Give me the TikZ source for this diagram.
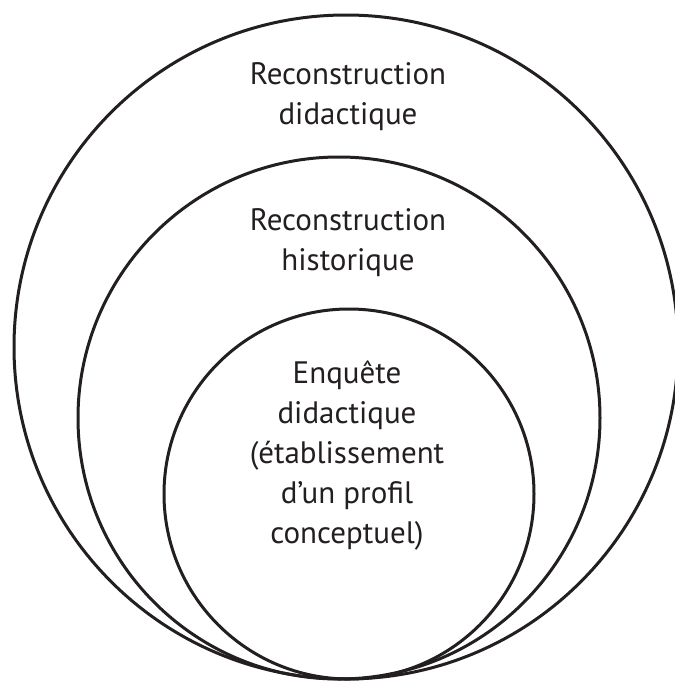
\documentclass[tikz,border=0pt]{standalone}
\usepackage{fontspec}
\setmainfont{PT Sans}
\definecolor{ink}{RGB}{35,31,32}
\tikzset{
  ring/.style={draw=ink, line width=1.5pt},
  label text/.style={align=center, text=ink, font=\fontsize{15.5}{20}\selectfont}
}
\begin{document}
\begin{tikzpicture}[x=0.5pt,y=-0.5pt]
\useasboundingbox (0,0) rectangle (675,681);
\foreach \cx/\cy/\r in {%
  346/347/332,
  339/418/261,
  349/494/185%
} {
  \draw[ring] (\cx,\cy) circle[radius=\r];
}
\node[label text] (didactique) at (348,97) {Reconstruction\\didactique};
\node[label text] (historique) at (348,243) {Reconstruction\\historique};
\node[label text] (enquete) at (347,456) {Enquête\\didactique\\(établissement\\d’un profil\\conceptuel)};
\end{tikzpicture}
\end{document}
